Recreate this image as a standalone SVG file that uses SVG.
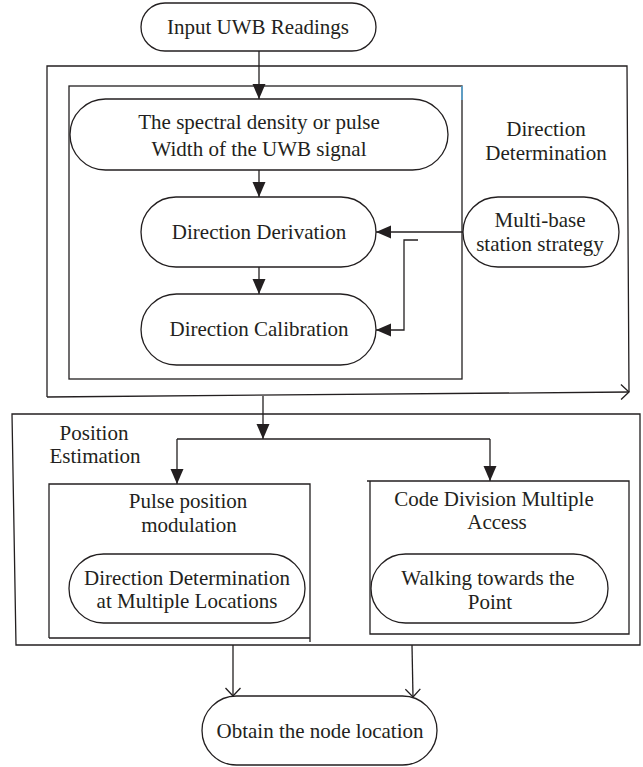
<svg xmlns="http://www.w3.org/2000/svg" width="643" height="767" viewBox="0 0 643 767">
<style>
  .box{fill:none;stroke:#231f20;stroke-width:1.3}
  .node{fill:#fff;stroke:#231f20;stroke-width:1.3}
  .t{font-family:"Liberation Serif","Times New Roman","DejaVu Serif",serif;font-size:21px;fill:#231f20;text-anchor:middle}
  .c{fill:none;stroke:#231f20;stroke-width:1.3}
</style>
<defs>
  <marker id="fa" viewBox="0 0 15 14" refX="15" refY="7" markerWidth="15" markerHeight="14" markerUnits="userSpaceOnUse" orient="auto">
    <path d="M0,0.5 L15,7 L0,13.5 Z" fill="#231f20"/>
  </marker>
  <marker id="oa" viewBox="0 0 10 16" refX="9" refY="8" markerWidth="10" markerHeight="16" markerUnits="userSpaceOnUse" orient="auto">
    <path d="M1,0.5 L9,8 L1,15.5" fill="none" stroke="#231f20" stroke-width="1.3"/>
  </marker>
</defs>

<g id="direction-determination">
  <path class="box" d="M47,397 V66 H627 L629,392"/>
  <path class="c" d="M47,397 L629,392" marker-end="url(#oa)"/>
  <text class="t" x="546" y="136">Direction</text>
  <text class="t" x="546" y="160">Determination</text>
</g>
<g id="inner-box">
  <rect class="box" x="69" y="86" width="393" height="293"/>
  <line x1="462" y1="86" x2="462" y2="100" stroke="#5aaee0" stroke-width="1.5"/>
</g>
<g id="position-estimation">
  <path class="box" d="M16,645 L12,414 H640 V645 Z"/>
  <text class="t" x="94" y="440">Position</text>
  <text class="t" x="95" y="463">Estimation</text>
</g>
<g id="ppm-box">
  <path class="box" d="M49,638 V484 H310 V642 M310,638 H49"/>
  <text class="t" x="188" y="508">Pulse position</text>
  <text class="t" x="189" y="532">modulation</text>
</g>
<g id="cdma-box">
  <path class="box" d="M367,481 H629 V634 H370 V481"/>
  <text class="t" x="494" y="506">Code Division Multiple</text>
  <text class="t" x="497" y="529">Access</text>
</g>

<g id="connectors">
  <path class="c" d="M259,51 V99" marker-end="url(#fa)"/>
  <path class="c" d="M259,170 V197" marker-end="url(#fa)"/>
  <path class="c" d="M259,267 V294" marker-end="url(#fa)"/>
  <path class="c" d="M463,232 H376" marker-end="url(#fa)"/>
  <path class="c" d="M418,240 H404 V330 H376" marker-end="url(#fa)"/>
  <path class="c" d="M263,396 V439" marker-end="url(#fa)"/>
  <path class="c" d="M177,439 H490"/>
  <path class="c" d="M177,439 V484" marker-end="url(#fa)"/>
  <path class="c" d="M490,439 V481" marker-end="url(#fa)"/>
  <path class="c" d="M233,645 V696" marker-end="url(#oa)"/>
  <path class="c" d="M412,645 L413,697" marker-end="url(#oa)"/>
</g>

<g id="input">
  <rect class="node" x="141" y="3" width="235" height="48" rx="24"/>
  <text class="t" x="258" y="34">Input UWB Readings</text>
</g>
<g id="spectral">
  <rect class="node" x="70" y="99" width="378" height="71" rx="35.5"/>
  <text class="t" x="259" y="129">The spectral density or pulse</text>
  <text class="t" x="259" y="156">Width of the UWB signal</text>
</g>
<g id="derivation">
  <rect class="node" x="141" y="197" width="235" height="70" rx="35"/>
  <text class="t" x="259" y="239">Direction Derivation</text>
</g>
<g id="calibration">
  <rect class="node" x="141" y="294" width="235" height="71" rx="35.5"/>
  <text class="t" x="259" y="336">Direction Calibration</text>
</g>
<g id="multibase">
  <rect class="node" x="463" y="197" width="156" height="70" rx="35"/>
  <text class="t" x="540" y="227">Multi-base</text>
  <text class="t" x="540" y="251">station strategy</text>
</g>
<g id="dir-multi-loc">
  <rect class="node" x="69" y="554" width="236" height="69" rx="34.5"/>
  <text class="t" x="187" y="585">Direction Determination</text>
  <text class="t" x="187" y="608">at Multiple Locations</text>
</g>
<g id="walking">
  <rect class="node" x="371" y="554" width="237" height="69" rx="34.5"/>
  <text class="t" x="488" y="585">Walking towards the</text>
  <text class="t" x="490" y="609">Point</text>
</g>
<g id="obtain">
  <rect class="node" x="202" y="696" width="235" height="69" rx="34.5"/>
  <text class="t" x="320" y="738">Obtain the node location</text>
</g>
</svg>
